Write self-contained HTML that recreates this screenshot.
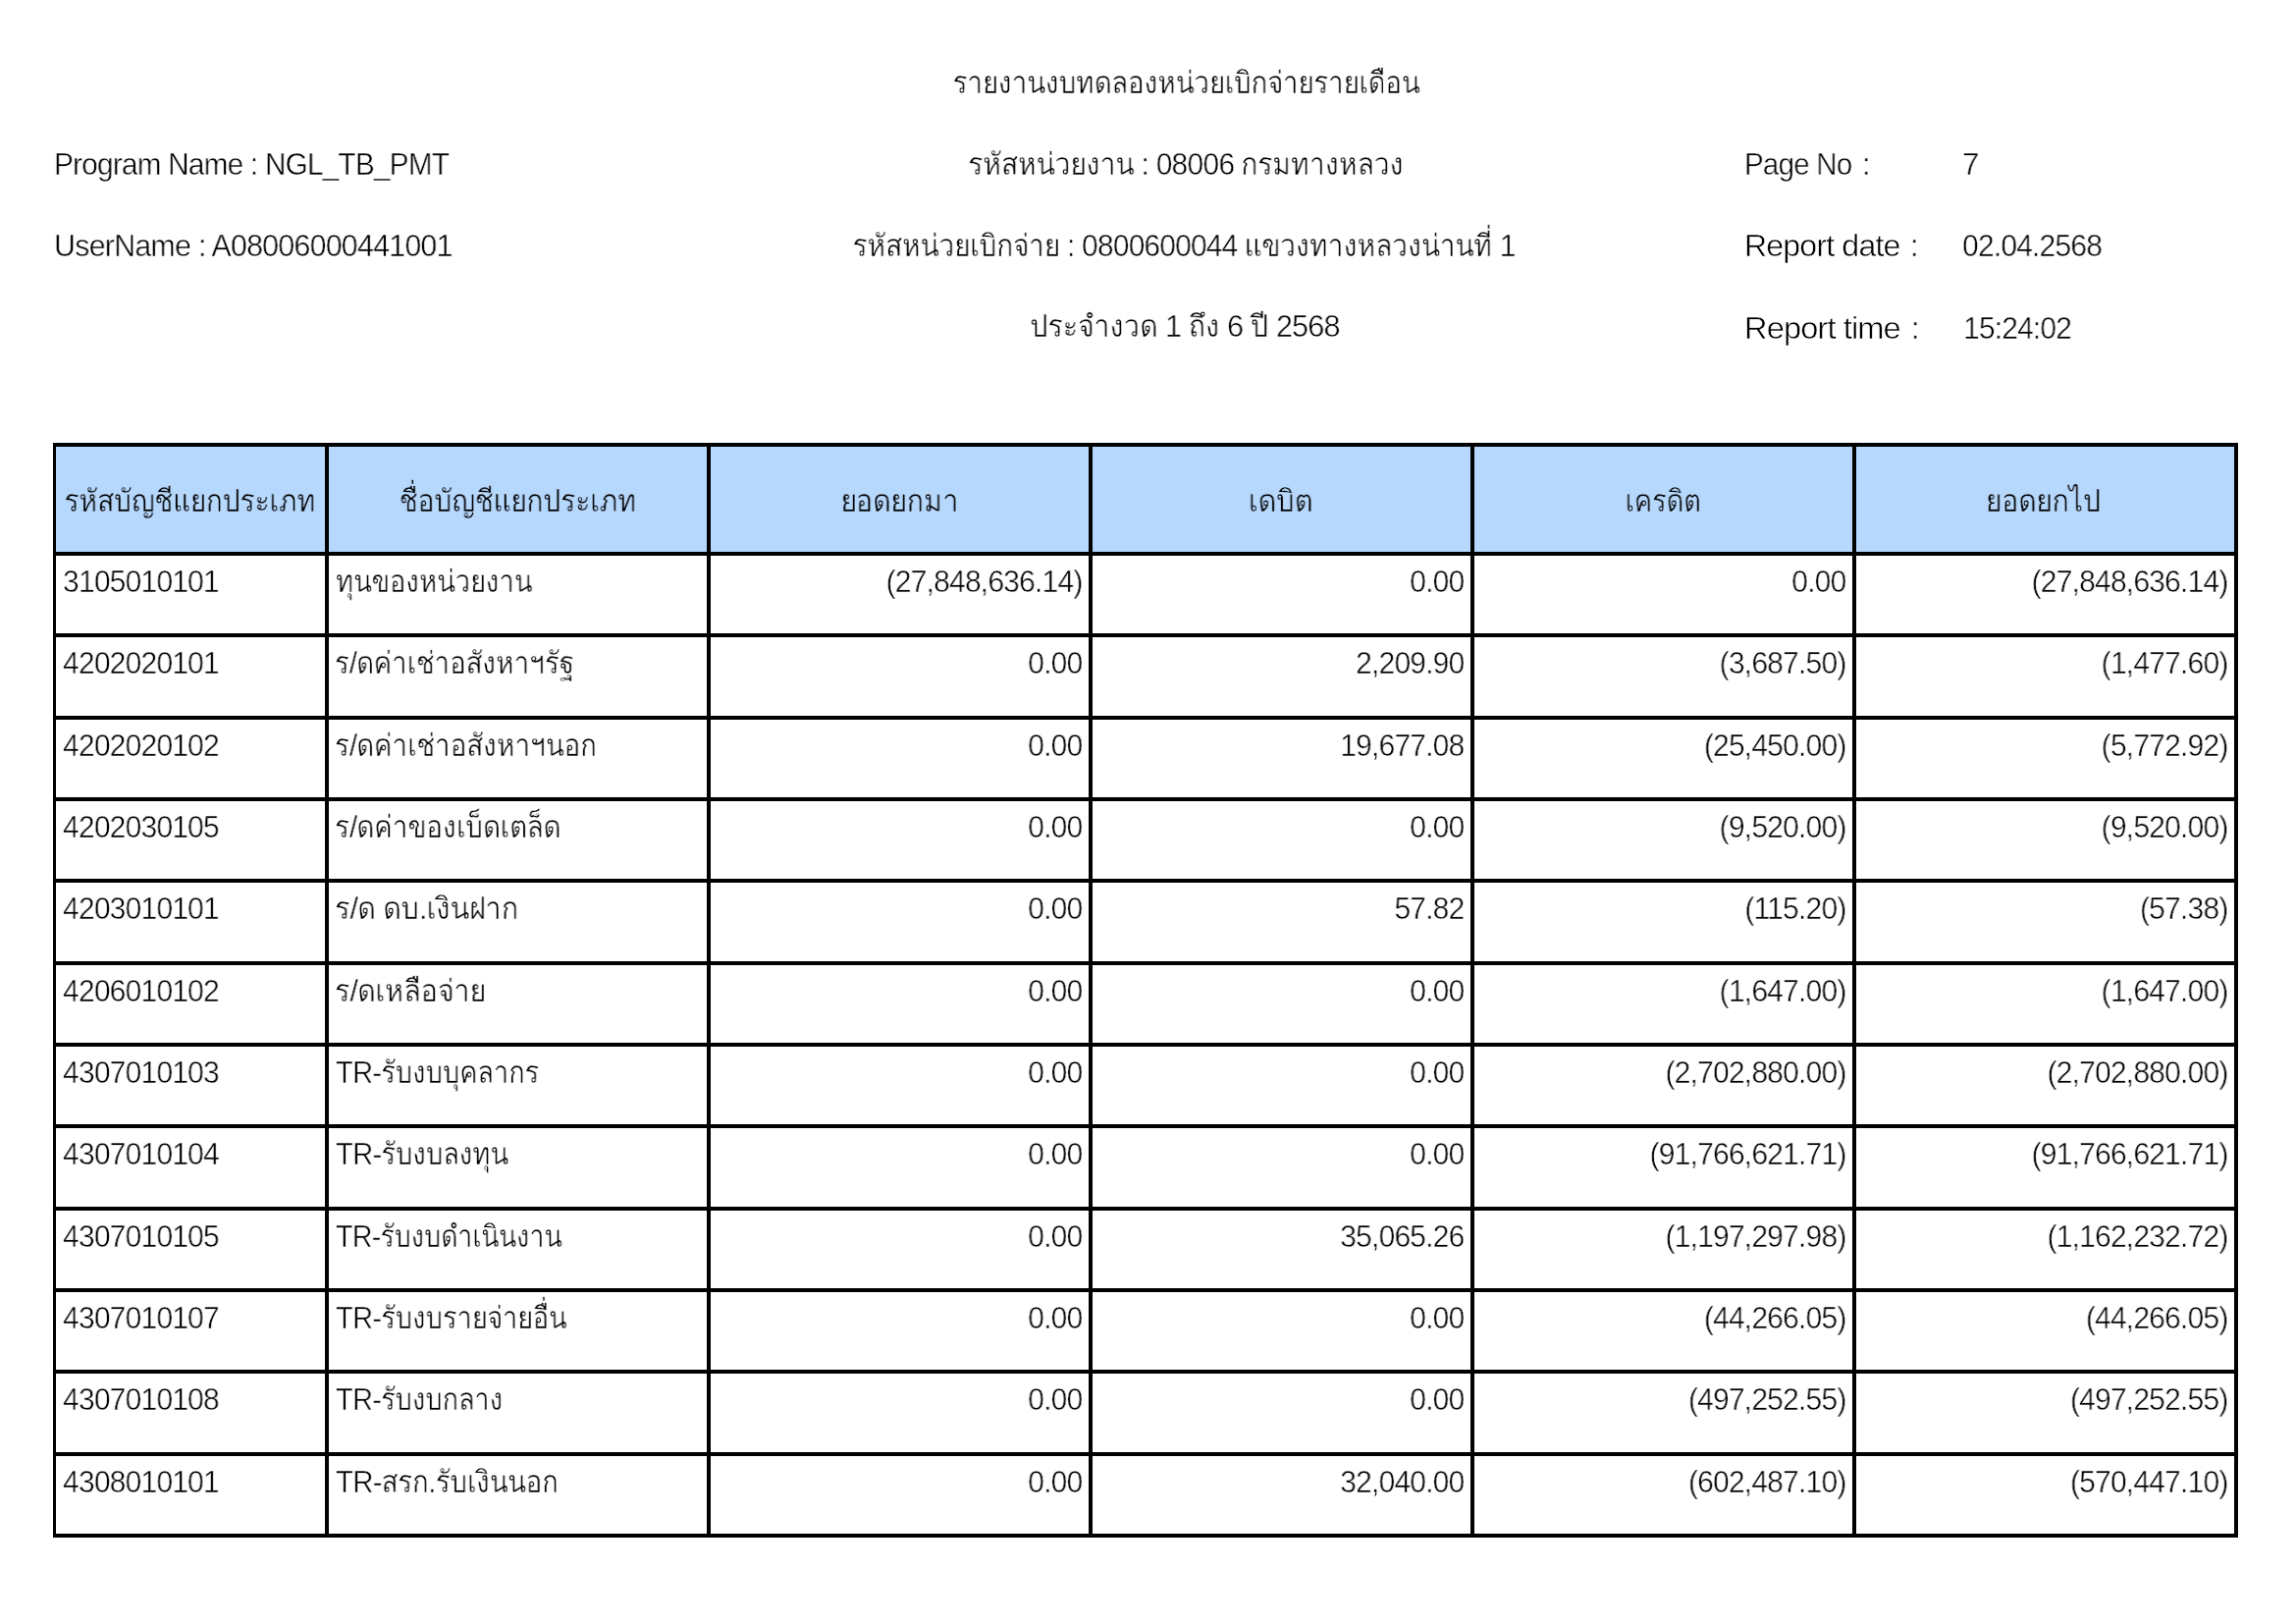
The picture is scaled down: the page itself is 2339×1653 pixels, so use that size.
<!DOCTYPE html><html><head><meta charset="utf-8"><style>
html,body{margin:0;padding:0;background:#fff;}
body{width:2339px;height:1653px;position:relative;overflow:hidden;font-family:"Liberation Sans",sans-serif;color:#000;}
.t{position:absolute;white-space:pre;font-size:32.00px;letter-spacing:-0.85px;line-height:60px;height:60px;-webkit-text-stroke:0.50px #fff;}
.t.h{-webkit-text-stroke-color:#b7d8fd;}
.t{will-change:transform;}
.th{font-size:29.87px;letter-spacing:0;-webkit-text-stroke-width:0.45px;display:inline-block;transform:scaleY(1.050);transform-origin:0 40.58px;}
.l{text-align:left;}.c{text-align:center;}.r{text-align:right;}
.b{position:absolute;background:#000;}
</style></head><body>
<div id="title" class="t c" style="left:658.51px;top:53.91px;width:1100.00px;transform:scaleX(0.9239);transform-origin:550.00px 0;"><span><span class="th">รายงานงบทดลองหน่วยเบิกจ่ายรายเดือน</span></span></div>
<div id="l2" class="t c" style="left:657.51px;top:136.91px;width:1100.00px;transform:scaleX(0.9397);transform-origin:550.00px 0;"><span><span class="th">รหัสหน่วยงาน</span> : 08006 <span class="th">กรมทางหลวง</span></span></div>
<div id="l3" class="t c" style="left:656.00px;top:219.91px;width:1100.00px;transform:scaleX(0.9347);transform-origin:550.00px 0;"><span><span class="th">รหัสหน่วยเบิกจ่าย</span> : 0800600044 <span class="th">แขวงทางหลวงน่านที่</span> 1</span></div>
<div id="l4" class="t c" style="left:656.99px;top:301.91px;width:1100.00px;transform:scaleX(0.9558);transform-origin:550.00px 0;"><span><span class="th">ประจำงวด</span> 1 <span class="th">ถึง</span> 6 <span class="th">ปี</span> 2568</span></div>
<div id="prog" class="t l" style="left:55.02px;top:136.91px;width:644.00px;transform:scaleX(0.9305);transform-origin:0.00px 0;"><span>Program Name : NGL_TB_PMT</span></div>
<div id="user" class="t l" style="left:54.95px;top:219.91px;width:644.00px;transform:scaleX(0.9518);transform-origin:0.00px 0;"><span>UserName : A08006000441001</span></div>
<div id="pageno" class="t l" style="left:1777.05px;top:136.91px;width:212.00px;transform:scaleX(0.9211);transform-origin:0.00px 0;"><span>Page No</span></div>
<div id="rdate" class="t l" style="left:1776.79px;top:219.91px;width:212.00px;transform:scaleX(1.0039);transform-origin:0.00px 0;"><span>Report date</span></div>
<div id="rtime" class="t l" style="left:1776.74px;top:303.91px;width:212.00px;transform:scaleX(1.0181);transform-origin:0.00px 0;"><span>Report time</span></div>
<div id="col1" class="t l" style="left:1896.50px;top:136.91px;width:100.00px;transform:scaleX(0.9375);transform-origin:0.00px 0;"><span>:</span></div>
<div id="col2" class="t l" style="left:1946.25px;top:219.91px;width:50.00px;transform:scaleX(0.9375);transform-origin:0.00px 0;"><span>:</span></div>
<div id="col3" class="t l" style="left:1946.75px;top:303.91px;width:50.00px;transform:scaleX(0.9375);transform-origin:0.00px 0;"><span>:</span></div>
<div id="pnum" class="t l" style="left:1999.05px;top:136.91px;width:301.00px;transform:scaleX(0.9701);transform-origin:0.00px 0;"><span>7</span></div>
<div id="date" class="t l" style="left:1999.10px;top:219.91px;width:301.00px;transform:scaleX(0.9369);transform-origin:0.00px 0;"><span>02.04.2568</span></div>
<div id="time" class="t l" style="left:2000.11px;top:303.91px;width:301.00px;transform:scaleX(0.9349);transform-origin:0.00px 0;"><span>15:24:02</span></div>
<div style="position:absolute;left:54px;top:451px;width:2222px;height:111px;background:#b7d8fd"></div>
<div class="b" style="left:54px;top:451px;width:2226px;height:4px"></div>
<div class="b" style="left:54px;top:562px;width:2226px;height:4px"></div>
<div class="b" style="left:54px;top:645px;width:2226px;height:4px"></div>
<div class="b" style="left:54px;top:729px;width:2226px;height:4px"></div>
<div class="b" style="left:54px;top:812px;width:2226px;height:4px"></div>
<div class="b" style="left:54px;top:895px;width:2226px;height:4px"></div>
<div class="b" style="left:54px;top:979px;width:2226px;height:4px"></div>
<div class="b" style="left:54px;top:1062px;width:2226px;height:4px"></div>
<div class="b" style="left:54px;top:1145px;width:2226px;height:4px"></div>
<div class="b" style="left:54px;top:1229px;width:2226px;height:4px"></div>
<div class="b" style="left:54px;top:1312px;width:2226px;height:4px"></div>
<div class="b" style="left:54px;top:1395px;width:2226px;height:4px"></div>
<div class="b" style="left:54px;top:1479px;width:2226px;height:4px"></div>
<div class="b" style="left:54px;top:1562px;width:2226px;height:4px"></div>
<div class="b" style="left:54px;top:451px;width:3px;height:1115px"></div>
<div class="b" style="left:331px;top:451px;width:4px;height:1115px"></div>
<div class="b" style="left:720px;top:451px;width:4px;height:1115px"></div>
<div class="b" style="left:1109px;top:451px;width:4px;height:1115px"></div>
<div class="b" style="left:1498px;top:451px;width:4px;height:1115px"></div>
<div class="b" style="left:1887px;top:451px;width:4px;height:1115px"></div>
<div class="b" style="left:2276px;top:451px;width:4px;height:1115px"></div>
<div id="h0" class="t c h" style="left:56.00px;top:479.91px;width:274.00px;transform:scaleX(0.9375);transform-origin:137.00px 0;"><span><span class="th">รหัสบัญชีแยกประเภท</span></span></div>
<div id="h1" class="t c h" style="left:334.76px;top:479.91px;width:385.00px;transform:scaleX(0.9396);transform-origin:192.50px 0;"><span><span class="th">ชื่อบัญชีแยกประเภท</span></span></div>
<div id="h2" class="t c h" style="left:723.58px;top:479.91px;width:385.00px;transform:scaleX(0.9610);transform-origin:192.50px 0;"><span><span class="th">ยอดยกมา</span></span></div>
<div id="h3" class="t c h" style="left:1112.21px;top:479.91px;width:385.00px;transform:scaleX(0.9771);transform-origin:192.50px 0;"><span><span class="th">เดบิต</span></span></div>
<div id="h4" class="t c h" style="left:1502.02px;top:479.91px;width:385.00px;transform:scaleX(0.9133);transform-origin:192.50px 0;"><span><span class="th">เครดิต</span></span></div>
<div id="h5" class="t c h" style="left:1889.34px;top:479.91px;width:385.00px;transform:scaleX(0.9519);transform-origin:192.50px 0;"><span><span class="th">ยอดยกไป</span></span></div>
<div id="c0" class="t l" style="left:64.00px;top:561.91px;width:267.00px;transform:scaleX(0.9375);transform-origin:0.00px 0;"><span>3105010101</span></div>
<div id="n0" class="t l" style="left:342.02px;top:561.91px;width:378.00px;transform:scaleX(0.9144);transform-origin:0.00px 0;"><span><span class="th">ทุนของหน่วยงาน</span></span></div>
<div id="v0_2" class="t r" style="left:724.00px;top:561.91px;width:378.50px;transform:scaleX(0.9375);transform-origin:378.50px 0;"><span>(27,848,636.14)</span></div>
<div id="v0_3" class="t r" style="left:1113.00px;top:561.91px;width:378.50px;transform:scaleX(0.9375);transform-origin:378.50px 0;"><span>0.00</span></div>
<div id="v0_4" class="t r" style="left:1502.00px;top:561.91px;width:378.50px;transform:scaleX(0.9375);transform-origin:378.50px 0;"><span>0.00</span></div>
<div id="v0_5" class="t r" style="left:1891.00px;top:561.91px;width:378.50px;transform:scaleX(0.9375);transform-origin:378.50px 0;"><span>(27,848,636.14)</span></div>
<div id="c1" class="t l" style="left:64.00px;top:645.24px;width:267.00px;transform:scaleX(0.9375);transform-origin:0.00px 0;"><span>4202020101</span></div>
<div id="n1" class="t l" style="left:341.03px;top:645.24px;width:378.00px;transform:scaleX(0.9222);transform-origin:0.00px 0;"><span><span class="th">ร</span>/<span class="th">ดค่าเช่าอสังหาฯรัฐ</span></span></div>
<div id="v1_2" class="t r" style="left:724.00px;top:645.24px;width:378.50px;transform:scaleX(0.9375);transform-origin:378.50px 0;"><span>0.00</span></div>
<div id="v1_3" class="t r" style="left:1113.00px;top:645.24px;width:378.50px;transform:scaleX(0.9375);transform-origin:378.50px 0;"><span>2,209.90</span></div>
<div id="v1_4" class="t r" style="left:1502.00px;top:645.24px;width:378.50px;transform:scaleX(0.9375);transform-origin:378.50px 0;"><span>(3,687.50)</span></div>
<div id="v1_5" class="t r" style="left:1891.00px;top:645.24px;width:378.50px;transform:scaleX(0.9375);transform-origin:378.50px 0;"><span>(1,477.60)</span></div>
<div id="c2" class="t l" style="left:64.00px;top:728.57px;width:267.00px;transform:scaleX(0.9375);transform-origin:0.00px 0;"><span>4202020102</span></div>
<div id="n2" class="t l" style="left:341.02px;top:728.57px;width:378.00px;transform:scaleX(0.9267);transform-origin:0.00px 0;"><span><span class="th">ร</span>/<span class="th">ดค่าเช่าอสังหาฯนอก</span></span></div>
<div id="v2_2" class="t r" style="left:724.00px;top:728.57px;width:378.50px;transform:scaleX(0.9375);transform-origin:378.50px 0;"><span>0.00</span></div>
<div id="v2_3" class="t r" style="left:1113.00px;top:728.57px;width:378.50px;transform:scaleX(0.9375);transform-origin:378.50px 0;"><span>19,677.08</span></div>
<div id="v2_4" class="t r" style="left:1502.00px;top:728.57px;width:378.50px;transform:scaleX(0.9375);transform-origin:378.50px 0;"><span>(25,450.00)</span></div>
<div id="v2_5" class="t r" style="left:1891.00px;top:728.57px;width:378.50px;transform:scaleX(0.9375);transform-origin:378.50px 0;"><span>(5,772.92)</span></div>
<div id="c3" class="t l" style="left:64.00px;top:811.91px;width:267.00px;transform:scaleX(0.9375);transform-origin:0.00px 0;"><span>4202030105</span></div>
<div id="n3" class="t l" style="left:341.01px;top:811.91px;width:378.00px;transform:scaleX(0.9320);transform-origin:0.00px 0;"><span><span class="th">ร</span>/<span class="th">ดค่าของเบ็ดเตล็ด</span></span></div>
<div id="v3_2" class="t r" style="left:724.00px;top:811.91px;width:378.50px;transform:scaleX(0.9375);transform-origin:378.50px 0;"><span>0.00</span></div>
<div id="v3_3" class="t r" style="left:1113.00px;top:811.91px;width:378.50px;transform:scaleX(0.9375);transform-origin:378.50px 0;"><span>0.00</span></div>
<div id="v3_4" class="t r" style="left:1502.00px;top:811.91px;width:378.50px;transform:scaleX(0.9375);transform-origin:378.50px 0;"><span>(9,520.00)</span></div>
<div id="v3_5" class="t r" style="left:1891.00px;top:811.91px;width:378.50px;transform:scaleX(0.9375);transform-origin:378.50px 0;"><span>(9,520.00)</span></div>
<div id="c4" class="t l" style="left:64.00px;top:895.24px;width:267.00px;transform:scaleX(0.9375);transform-origin:0.00px 0;"><span>4203010101</span></div>
<div id="n4" class="t l" style="left:340.94px;top:895.24px;width:378.00px;transform:scaleX(0.9647);transform-origin:0.00px 0;"><span><span class="th">ร</span>/<span class="th">ด</span> <span class="th">ดบ</span>.<span class="th">เงินฝาก</span></span></div>
<div id="v4_2" class="t r" style="left:724.00px;top:895.24px;width:378.50px;transform:scaleX(0.9375);transform-origin:378.50px 0;"><span>0.00</span></div>
<div id="v4_3" class="t r" style="left:1113.00px;top:895.24px;width:378.50px;transform:scaleX(0.9375);transform-origin:378.50px 0;"><span>57.82</span></div>
<div id="v4_4" class="t r" style="left:1502.00px;top:895.24px;width:378.50px;transform:scaleX(0.9375);transform-origin:378.50px 0;"><span>(115.20)</span></div>
<div id="v4_5" class="t r" style="left:1891.00px;top:895.24px;width:378.50px;transform:scaleX(0.9375);transform-origin:378.50px 0;"><span>(57.38)</span></div>
<div id="c5" class="t l" style="left:64.00px;top:978.57px;width:267.00px;transform:scaleX(0.9375);transform-origin:0.00px 0;"><span>4206010102</span></div>
<div id="n5" class="t l" style="left:340.95px;top:978.57px;width:378.00px;transform:scaleX(0.9624);transform-origin:0.00px 0;"><span><span class="th">ร</span>/<span class="th">ดเหลือจ่าย</span></span></div>
<div id="v5_2" class="t r" style="left:724.00px;top:978.57px;width:378.50px;transform:scaleX(0.9375);transform-origin:378.50px 0;"><span>0.00</span></div>
<div id="v5_3" class="t r" style="left:1113.00px;top:978.57px;width:378.50px;transform:scaleX(0.9375);transform-origin:378.50px 0;"><span>0.00</span></div>
<div id="v5_4" class="t r" style="left:1502.00px;top:978.57px;width:378.50px;transform:scaleX(0.9375);transform-origin:378.50px 0;"><span>(1,647.00)</span></div>
<div id="v5_5" class="t r" style="left:1891.00px;top:978.57px;width:378.50px;transform:scaleX(0.9375);transform-origin:378.50px 0;"><span>(1,647.00)</span></div>
<div id="c6" class="t l" style="left:64.00px;top:1061.91px;width:267.00px;transform:scaleX(0.9375);transform-origin:0.00px 0;"><span>4307010103</span></div>
<div id="n6" class="t l" style="left:342.07px;top:1061.91px;width:378.00px;transform:scaleX(0.9084);transform-origin:0.00px 0;"><span>TR-<span class="th">รับงบบุคลากร</span></span></div>
<div id="v6_2" class="t r" style="left:724.00px;top:1061.91px;width:378.50px;transform:scaleX(0.9375);transform-origin:378.50px 0;"><span>0.00</span></div>
<div id="v6_3" class="t r" style="left:1113.00px;top:1061.91px;width:378.50px;transform:scaleX(0.9375);transform-origin:378.50px 0;"><span>0.00</span></div>
<div id="v6_4" class="t r" style="left:1502.00px;top:1061.91px;width:378.50px;transform:scaleX(0.9375);transform-origin:378.50px 0;"><span>(2,702,880.00)</span></div>
<div id="v6_5" class="t r" style="left:1891.00px;top:1061.91px;width:378.50px;transform:scaleX(0.9375);transform-origin:378.50px 0;"><span>(2,702,880.00)</span></div>
<div id="c7" class="t l" style="left:64.00px;top:1145.24px;width:267.00px;transform:scaleX(0.9375);transform-origin:0.00px 0;"><span>4307010104</span></div>
<div id="n7" class="t l" style="left:342.05px;top:1145.24px;width:378.00px;transform:scaleX(0.9112);transform-origin:0.00px 0;"><span>TR-<span class="th">รับงบลงทุน</span></span></div>
<div id="v7_2" class="t r" style="left:724.00px;top:1145.24px;width:378.50px;transform:scaleX(0.9375);transform-origin:378.50px 0;"><span>0.00</span></div>
<div id="v7_3" class="t r" style="left:1113.00px;top:1145.24px;width:378.50px;transform:scaleX(0.9375);transform-origin:378.50px 0;"><span>0.00</span></div>
<div id="v7_4" class="t r" style="left:1502.00px;top:1145.24px;width:378.50px;transform:scaleX(0.9375);transform-origin:378.50px 0;"><span>(91,766,621.71)</span></div>
<div id="v7_5" class="t r" style="left:1891.00px;top:1145.24px;width:378.50px;transform:scaleX(0.9375);transform-origin:378.50px 0;"><span>(91,766,621.71)</span></div>
<div id="c8" class="t l" style="left:64.00px;top:1228.57px;width:267.00px;transform:scaleX(0.9375);transform-origin:0.00px 0;"><span>4307010105</span></div>
<div id="n8" class="t l" style="left:342.10px;top:1228.57px;width:378.00px;transform:scaleX(0.8932);transform-origin:0.00px 0;"><span>TR-<span class="th">รับงบดำเนินงาน</span></span></div>
<div id="v8_2" class="t r" style="left:724.00px;top:1228.57px;width:378.50px;transform:scaleX(0.9375);transform-origin:378.50px 0;"><span>0.00</span></div>
<div id="v8_3" class="t r" style="left:1113.00px;top:1228.57px;width:378.50px;transform:scaleX(0.9375);transform-origin:378.50px 0;"><span>35,065.26</span></div>
<div id="v8_4" class="t r" style="left:1502.00px;top:1228.57px;width:378.50px;transform:scaleX(0.9375);transform-origin:378.50px 0;"><span>(1,197,297.98)</span></div>
<div id="v8_5" class="t r" style="left:1891.00px;top:1228.57px;width:378.50px;transform:scaleX(0.9375);transform-origin:378.50px 0;"><span>(1,162,232.72)</span></div>
<div id="c9" class="t l" style="left:64.00px;top:1311.91px;width:267.00px;transform:scaleX(0.9375);transform-origin:0.00px 0;"><span>4307010107</span></div>
<div id="n9" class="t l" style="left:342.06px;top:1311.91px;width:378.00px;transform:scaleX(0.9083);transform-origin:0.00px 0;"><span>TR-<span class="th">รับงบรายจ่ายอื่น</span></span></div>
<div id="v9_2" class="t r" style="left:724.00px;top:1311.91px;width:378.50px;transform:scaleX(0.9375);transform-origin:378.50px 0;"><span>0.00</span></div>
<div id="v9_3" class="t r" style="left:1113.00px;top:1311.91px;width:378.50px;transform:scaleX(0.9375);transform-origin:378.50px 0;"><span>0.00</span></div>
<div id="v9_4" class="t r" style="left:1502.00px;top:1311.91px;width:378.50px;transform:scaleX(0.9375);transform-origin:378.50px 0;"><span>(44,266.05)</span></div>
<div id="v9_5" class="t r" style="left:1891.00px;top:1311.91px;width:378.50px;transform:scaleX(0.9375);transform-origin:378.50px 0;"><span>(44,266.05)</span></div>
<div id="c10" class="t l" style="left:64.00px;top:1395.24px;width:267.00px;transform:scaleX(0.9375);transform-origin:0.00px 0;"><span>4307010108</span></div>
<div id="n10" class="t l" style="left:342.07px;top:1395.24px;width:378.00px;transform:scaleX(0.9059);transform-origin:0.00px 0;"><span>TR-<span class="th">รับงบกลาง</span></span></div>
<div id="v10_2" class="t r" style="left:724.00px;top:1395.24px;width:378.50px;transform:scaleX(0.9375);transform-origin:378.50px 0;"><span>0.00</span></div>
<div id="v10_3" class="t r" style="left:1113.00px;top:1395.24px;width:378.50px;transform:scaleX(0.9375);transform-origin:378.50px 0;"><span>0.00</span></div>
<div id="v10_4" class="t r" style="left:1502.00px;top:1395.24px;width:378.50px;transform:scaleX(0.9375);transform-origin:378.50px 0;"><span>(497,252.55)</span></div>
<div id="v10_5" class="t r" style="left:1891.00px;top:1395.24px;width:378.50px;transform:scaleX(0.9375);transform-origin:378.50px 0;"><span>(497,252.55)</span></div>
<div id="c11" class="t l" style="left:64.00px;top:1478.57px;width:267.00px;transform:scaleX(0.9375);transform-origin:0.00px 0;"><span>4308010101</span></div>
<div id="n11" class="t l" style="left:342.04px;top:1478.57px;width:378.00px;transform:scaleX(0.9179);transform-origin:0.00px 0;"><span>TR-<span class="th">สรก</span>.<span class="th">รับเงินนอก</span></span></div>
<div id="v11_2" class="t r" style="left:724.00px;top:1478.57px;width:378.50px;transform:scaleX(0.9375);transform-origin:378.50px 0;"><span>0.00</span></div>
<div id="v11_3" class="t r" style="left:1113.00px;top:1478.57px;width:378.50px;transform:scaleX(0.9375);transform-origin:378.50px 0;"><span>32,040.00</span></div>
<div id="v11_4" class="t r" style="left:1502.00px;top:1478.57px;width:378.50px;transform:scaleX(0.9375);transform-origin:378.50px 0;"><span>(602,487.10)</span></div>
<div id="v11_5" class="t r" style="left:1891.00px;top:1478.57px;width:378.50px;transform:scaleX(0.9375);transform-origin:378.50px 0;"><span>(570,447.10)</span></div>
</body></html>
